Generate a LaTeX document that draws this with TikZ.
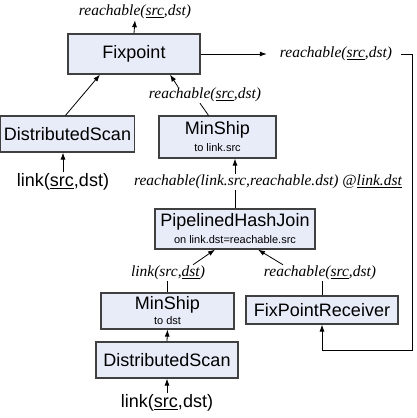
\documentclass[tikz,border=0pt]{standalone}
\usepackage{fontspec}
\setmainfont{Liberation Serif}
\setsansfont{Liberation Sans}
\usetikzlibrary{arrows.meta}
\definecolor{opfill}{HTML}{E8ECF8}
\definecolor{opline}{HTML}{404040}
\newcommand{\opsize}{\fontsize{18}{20}\selectfont}
\newcommand{\notesize}{\fontsize{11}{12}\selectfont}
\newcommand{\relfont}{\fontsize{15.5}{17}\selectfont\itshape}

\begin{document}
\begin{tikzpicture}[x=1pt, y=-1pt,
    op/.style={draw=opline, line width=1.2pt, fill=opfill, inner sep=0pt,
      align=center, font=\sffamily\opsize},
    rel/.style={inner sep=1pt, font=\relfont},
    src/.style={inner sep=1pt, font=\sffamily\opsize},
    flow/.style={draw=black, line width=0.8pt},
    >={Latex[length=7pt,width=5pt]}]
  \useasboundingbox (0,0) rectangle (416,418);

  % operators
  \node[op, minimum width=132pt, minimum height=40pt] (fix) at (134,54) {Fixpoint};
  \node[op, minimum width=134pt, minimum height=36pt] (dscanA) at (67.5,134) {DistributedScan};
  \node[op, minimum width=117pt, minimum height=42pt] (shipA) at (217.5,137)
    {MinShip\\[-3pt]{\notesize to link.src}};
  \node[op, minimum width=160pt, minimum height=40pt] (phj) at (235,229)
    {PipelinedHashJoin\\[-3pt]{\notesize on link.dst=reachable.src}};
  \node[op, minimum width=133pt, minimum height=36pt] (shipB) at (167.5,311)
    {MinShip\\[-5pt]{\notesize to dst}};
  \node[op, minimum width=152pt, minimum height=28pt] (recv) at (322,310) {FixPointReceiver};
  \node[op, minimum width=142pt, minimum height=36pt] (dscanB) at (167,360) {DistributedScan};

  % relations
  \node[rel] (lTop) at (135,12) {reachable(\underline{src},dst)};
  \node[rel] (lOut) at (336,54) {reachable(\underline{src},dst)};
  \node[rel] (lShip) at (205,95) {reachable(\underline{src},dst)};
  \node[rel] (lJoin) at (268,182) {reachable(link.src,reachable.dst) @\underline{link.dst}};
  \node[rel] (lLink) at (168,273) {link(src,\underline{dst})};
  \node[rel] (lReach) at (320,273) {reachable(\underline{src},dst)};
  \node[src] (lScanA) at (63,182) {link(\underline{src},dst)};
  \node[src] (lScanB) at (167,403) {link(\underline{src},dst)};
  \coordinate (turn) at (412,350);

  % flows
  \draw[flow, ->] (fix.north) -- (lTop.south);
  \draw[flow, ->, shorten >=12pt] (fix.east) -- (lOut.west);
  \draw[flow, ->] ([xshift=8pt]lOut.east) -| (turn) -| (recv.south);
  \draw[flow, ->] ([xshift=-2pt]dscanA.north) -- ([xshift=-34pt]fix.south);
  \draw[flow, ->] (lScanA.north) -- (lScanA.north |- dscanA.south);
  \draw[flow] ([xshift=-9pt]shipA.north) -- ([xshift=-5pt]lShip.south);
  \draw[flow, ->] ([xshift=-27pt]lShip.north) -- ([xshift=36pt]fix.south);
  \draw[flow, ->] (phj.north |- lJoin.north) -- (phj.north |- shipA.south);
  \draw[flow] (phj.north) -- (phj.north |- lJoin.south);
  \draw[flow, ->] ([xshift=25pt]lLink.north) -- ([xshift=-20pt]phj.south);
  \draw[flow, ->] ([xshift=-37pt]lReach.north) -- ([xshift=23pt]phj.south);
  \draw[flow] (shipB.north |- lLink.south) -- (shipB.north);
  \draw[flow] (recv.north |- lReach.south) -- (recv.north);
  \draw[flow, ->] (dscanB.north) -- (shipB.south);
  \draw[flow, ->] (lScanB.north) -- (dscanB.south);
\end{tikzpicture}
\end{document}
